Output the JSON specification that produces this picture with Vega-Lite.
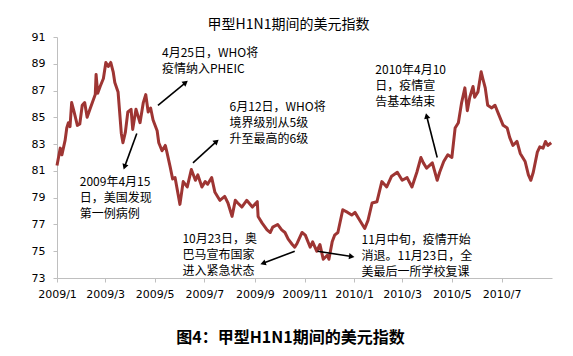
{
  "$schema": "https://vega.github.io/schema/vega-lite/v6.json",
  "width": 495,
  "height": 241,
  "autosize": "none",
  "padding": {"left": 57, "top": 37, "right": 21, "bottom": 78},
  "background": "white",
  "title": {"text": "图4：甲型H1N1期间的美元指数", "orient": "bottom", "font": "Noto Sans CJK SC", "fontSize": 16, "fontWeight": "bold", "color": "#000000", "anchor": "middle", "frame": "group", "offset": 31, "dx": -14},
  "config": {"view": {"stroke": null}},
  "datasets": {
    "dxy": [
      {"d": "2009/01/01", "v": 81.4}, {"d": "2009/01/05", "v": 82.7}, {"d": "2009/01/07", "v": 82.2}, {"d": "2009/01/11", "v": 83.3},
      {"d": "2009/01/13", "v": 84.2}, {"d": "2009/01/15", "v": 84.6}, {"d": "2009/01/17", "v": 84.3}, {"d": "2009/01/19", "v": 86.1},
      {"d": "2009/01/22", "v": 85.4}, {"d": "2009/01/26", "v": 84.4}, {"d": "2009/01/29", "v": 84.5}, {"d": "2009/02/01", "v": 85.9},
      {"d": "2009/02/04", "v": 86.1}, {"d": "2009/02/07", "v": 85.0}, {"d": "2009/02/11", "v": 85.7}, {"d": "2009/02/14", "v": 86.2},
      {"d": "2009/02/17", "v": 86.7}, {"d": "2009/02/18", "v": 88.2}, {"d": "2009/02/20", "v": 86.8}, {"d": "2009/02/23", "v": 87.3},
      {"d": "2009/02/27", "v": 87.9}, {"d": "2009/03/02", "v": 89.1}, {"d": "2009/03/05", "v": 88.8}, {"d": "2009/03/08", "v": 89.1},
      {"d": "2009/03/11", "v": 88.4}, {"d": "2009/03/13", "v": 87.6}, {"d": "2009/03/17", "v": 86.9}, {"d": "2009/03/21", "v": 83.8},
      {"d": "2009/03/23", "v": 83.1}, {"d": "2009/03/26", "v": 83.9}, {"d": "2009/03/29", "v": 85.4}, {"d": "2009/04/02", "v": 85.6},
      {"d": "2009/04/04", "v": 84.1}, {"d": "2009/04/08", "v": 85.6}, {"d": "2009/04/11", "v": 85.0}, {"d": "2009/04/13", "v": 84.6},
      {"d": "2009/04/17", "v": 86.1}, {"d": "2009/04/20", "v": 86.7}, {"d": "2009/04/23", "v": 85.4}, {"d": "2009/04/26", "v": 85.7},
      {"d": "2009/04/29", "v": 84.8}, {"d": "2009/05/04", "v": 84.0}, {"d": "2009/05/06", "v": 83.1}, {"d": "2009/05/10", "v": 82.5},
      {"d": "2009/05/14", "v": 82.9}, {"d": "2009/05/16", "v": 82.4}, {"d": "2009/05/20", "v": 81.3}, {"d": "2009/05/23", "v": 80.4},
      {"d": "2009/05/26", "v": 80.5}, {"d": "2009/06/01", "v": 78.5}, {"d": "2009/06/05", "v": 80.2}, {"d": "2009/06/10", "v": 79.8},
      {"d": "2009/06/15", "v": 81.1}, {"d": "2009/06/20", "v": 80.3}, {"d": "2009/06/23", "v": 80.7}, {"d": "2009/06/28", "v": 79.8},
      {"d": "2009/07/02", "v": 80.2}, {"d": "2009/07/05", "v": 80.0}, {"d": "2009/07/10", "v": 80.5}, {"d": "2009/07/14", "v": 79.4},
      {"d": "2009/07/20", "v": 78.8}, {"d": "2009/07/26", "v": 79.1}, {"d": "2009/07/30", "v": 78.6}, {"d": "2009/08/04", "v": 77.6},
      {"d": "2009/08/08", "v": 78.8}, {"d": "2009/08/11", "v": 78.6}, {"d": "2009/08/16", "v": 78.3}, {"d": "2009/08/22", "v": 78.8},
      {"d": "2009/08/29", "v": 78.3}, {"d": "2009/09/04", "v": 78.7}, {"d": "2009/09/05", "v": 77.6}, {"d": "2009/09/10", "v": 77.1},
      {"d": "2009/09/16", "v": 76.6}, {"d": "2009/09/20", "v": 76.4}, {"d": "2009/09/23", "v": 76.8}, {"d": "2009/09/29", "v": 77.0},
      {"d": "2009/10/04", "v": 76.6}, {"d": "2009/10/08", "v": 76.4}, {"d": "2009/10/12", "v": 75.9}, {"d": "2009/10/17", "v": 75.5},
      {"d": "2009/10/20", "v": 75.3}, {"d": "2009/10/23", "v": 75.6}, {"d": "2009/10/29", "v": 76.4}, {"d": "2009/11/02", "v": 76.2},
      {"d": "2009/11/08", "v": 75.3}, {"d": "2009/11/11", "v": 75.7}, {"d": "2009/11/16", "v": 75.0}, {"d": "2009/11/20", "v": 75.5},
      {"d": "2009/11/24", "v": 74.4}, {"d": "2009/11/29", "v": 74.7}, {"d": "2009/12/01", "v": 74.4}, {"d": "2009/12/05", "v": 75.7},
      {"d": "2009/12/08", "v": 76.2}, {"d": "2009/12/12", "v": 76.4}, {"d": "2009/12/18", "v": 78.1}, {"d": "2009/12/24", "v": 77.9},
      {"d": "2009/12/29", "v": 77.7}, {"d": "2010/01/02", "v": 77.9}, {"d": "2010/01/08", "v": 77.3}, {"d": "2010/01/14", "v": 76.7},
      {"d": "2010/01/18", "v": 77.3}, {"d": "2010/01/23", "v": 78.6}, {"d": "2010/01/29", "v": 78.7}, {"d": "2010/02/04", "v": 80.2},
      {"d": "2010/02/10", "v": 79.8}, {"d": "2010/02/16", "v": 80.6}, {"d": "2010/02/23", "v": 80.9}, {"d": "2010/03/01", "v": 80.3},
      {"d": "2010/03/07", "v": 80.5}, {"d": "2010/03/13", "v": 79.8}, {"d": "2010/03/19", "v": 80.9}, {"d": "2010/03/24", "v": 82.0},
      {"d": "2010/03/27", "v": 81.6}, {"d": "2010/03/31", "v": 81.2}, {"d": "2010/04/07", "v": 81.6}, {"d": "2010/04/13", "v": 80.3},
      {"d": "2010/04/16", "v": 80.9}, {"d": "2010/04/21", "v": 81.7}, {"d": "2010/04/26", "v": 82.2}, {"d": "2010/05/01", "v": 82.0},
      {"d": "2010/05/05", "v": 84.2}, {"d": "2010/05/09", "v": 84.6}, {"d": "2010/05/13", "v": 86.1}, {"d": "2010/05/17", "v": 87.2},
      {"d": "2010/05/20", "v": 85.5}, {"d": "2010/05/23", "v": 86.5}, {"d": "2010/05/27", "v": 87.3}, {"d": "2010/05/29", "v": 86.5},
      {"d": "2010/06/02", "v": 86.9}, {"d": "2010/06/06", "v": 88.4}, {"d": "2010/06/08", "v": 87.9}, {"d": "2010/06/11", "v": 87.2},
      {"d": "2010/06/14", "v": 85.9}, {"d": "2010/06/19", "v": 85.7}, {"d": "2010/06/23", "v": 85.9}, {"d": "2010/06/27", "v": 85.3},
      {"d": "2010/07/03", "v": 84.4}, {"d": "2010/07/08", "v": 84.2}, {"d": "2010/07/11", "v": 83.5}, {"d": "2010/07/15", "v": 82.9},
      {"d": "2010/07/20", "v": 83.2}, {"d": "2010/07/24", "v": 82.3}, {"d": "2010/07/30", "v": 81.7}, {"d": "2010/08/03", "v": 80.7},
      {"d": "2010/08/06", "v": 80.3}, {"d": "2010/08/09", "v": 80.9}, {"d": "2010/08/14", "v": 82.4}, {"d": "2010/08/17", "v": 82.8},
      {"d": "2010/08/21", "v": 82.7}, {"d": "2010/08/24", "v": 83.2}, {"d": "2010/08/27", "v": 82.9}, {"d": "2010/08/31", "v": 83.1}
    ],
    "notes": [
      {"d": "2009/05/10", "v": 89.8, "label": ["4月25日，WHO将", "疫情纳入PHEIC"]},
      {"d": "2009/08/01", "v": 85.8, "label": ["6月12日，WHO将", "境界级别从5级", "升至最高的6级"]},
      {"d": "2009/01/29", "v": 80.2, "label": ["2009年4月15", "日，美国发现", "第一例病例"]},
      {"d": "2009/06/04", "v": 75.9, "label": ["10月23日，奥", "巴马宣布国家", "进入紧急状态"]},
      {"d": "2010/01/10", "v": 75.85, "label": ["11月中旬，疫情开始", "消退。11月23日，全", "美最后一所学校复课"]},
      {"d": "2010/01/27", "v": 88.5, "label": ["2010年4月10", "日，疫情宣", "告基本结束"]}
    ],
    "arrows": [
      {"d": "2009/05/05", "v": 85.9, "d2": "2009/06/08", "v2": 87.6},
      {"d": "2009/06/17", "v": 81.6, "d2": "2009/07/16", "v2": 83.2},
      {"d": "2009/04/09", "v": 83.8, "d2": "2009/03/25", "v2": 81.3},
      {"d": "2009/10/20", "v": 75.0, "d2": "2009/09/11", "v2": 74.1},
      {"d": "2009/11/17", "v": 75.0, "d2": "2009/12/29", "v2": 74.6},
      {"d": "2010/04/13", "v": 82.0, "d2": "2010/03/31", "v2": 85.1}
    ],
    "heads": [
      {"id": 1, "d": "2009/06/08", "v": 87.6},
      {"id": 2, "d": "2009/07/16", "v": 83.2},
      {"id": 3, "d": "2009/03/25", "v": 81.3},
      {"id": 4, "d": "2009/09/11", "v": 74.1},
      {"id": 5, "d": "2009/12/29", "v": 74.6},
      {"id": 6, "d": "2010/03/31", "v": 85.1}
    ]
  },
  "encoding": {
    "x": {
      "field": "d", "type": "temporal",
      "scale": {"domain": [{"year": 2009, "month": 1, "date": 1}, {"year": 2010, "month": 9, "date": 1}]},
      "axis": {
        "format": "%Y/%-m",
        "values": [
          {"year": 2009, "month": 1, "date": 1}, {"year": 2009, "month": 3, "date": 1}, {"year": 2009, "month": 5, "date": 1},
          {"year": 2009, "month": 7, "date": 1}, {"year": 2009, "month": 9, "date": 1}, {"year": 2009, "month": 11, "date": 1},
          {"year": 2010, "month": 1, "date": 1}, {"year": 2010, "month": 3, "date": 1}, {"year": 2010, "month": 5, "date": 1},
          {"year": 2010, "month": 7, "date": 1}
        ],
        "labelFlush": false, "labelOverlap": false, "grid": false,
        "domainColor": "#BFBFBF", "tickColor": "#BFBFBF", "tickSize": 4,
        "labelFont": "DejaVu Sans", "labelFontSize": 11, "labelColor": "#000000", "labelPadding": 6,
        "title": null
      }
    },
    "y": {
      "field": "v", "type": "quantitative",
      "scale": {"domain": [73, 91], "nice": false, "zero": false},
      "axis": {
        "values": [73, 75, 77, 79, 81, 83, 85, 87, 89, 91], "grid": false, "labelOverlap": false,
        "domainColor": "#BFBFBF", "tickColor": "#BFBFBF", "tickSize": 4,
        "labelFont": "DejaVu Sans", "labelFontSize": 11, "labelColor": "#000000", "labelPadding": 8,
        "title": "甲型H1N1期间的美元指数", "titleAngle": 0, "titleAlign": "center", "titleBaseline": "alphabetic",
        "titleX": 231, "titleY": -9, "titleFont": "Noto Sans CJK SC", "titleFontSize": 14, "titleFontWeight": "normal", "titleColor": "#000000"
      }
    }
  },
  "layer": [
    {
      "data": {"name": "dxy"},
      "mark": {"type": "line", "color": "#9E3533", "strokeWidth": 3, "strokeJoin": "round"}
    },
    {
      "data": {"name": "arrows"},
      "mark": {"type": "rule", "color": "#000000", "strokeWidth": 1.6},
      "encoding": {"x2": {"field": "d2"}, "y2": {"field": "v2"}}
    },
    {
      "data": {"name": "heads"},
      "mark": {"type": "point", "shape": "triangle-up", "filled": true, "color": "#000000", "size": 40, "opacity": 1},
      "encoding": {
        "angle": {"field": "id", "type": "quantitative", "scale": {"domain": [1, 2, 3, 4, 5, 6], "range": [52, 49, 199, 251, 98, 347]}, "legend": null}
      }
    },
    {
      "data": {"name": "notes"},
      "mark": {"type": "text", "align": "left", "baseline": "middle", "font": "Noto Sans CJK SC", "fontSize": 12, "lineHeight": 16, "color": "#000000"},
      "encoding": {"text": {"field": "label"}}
    }
  ]
}
